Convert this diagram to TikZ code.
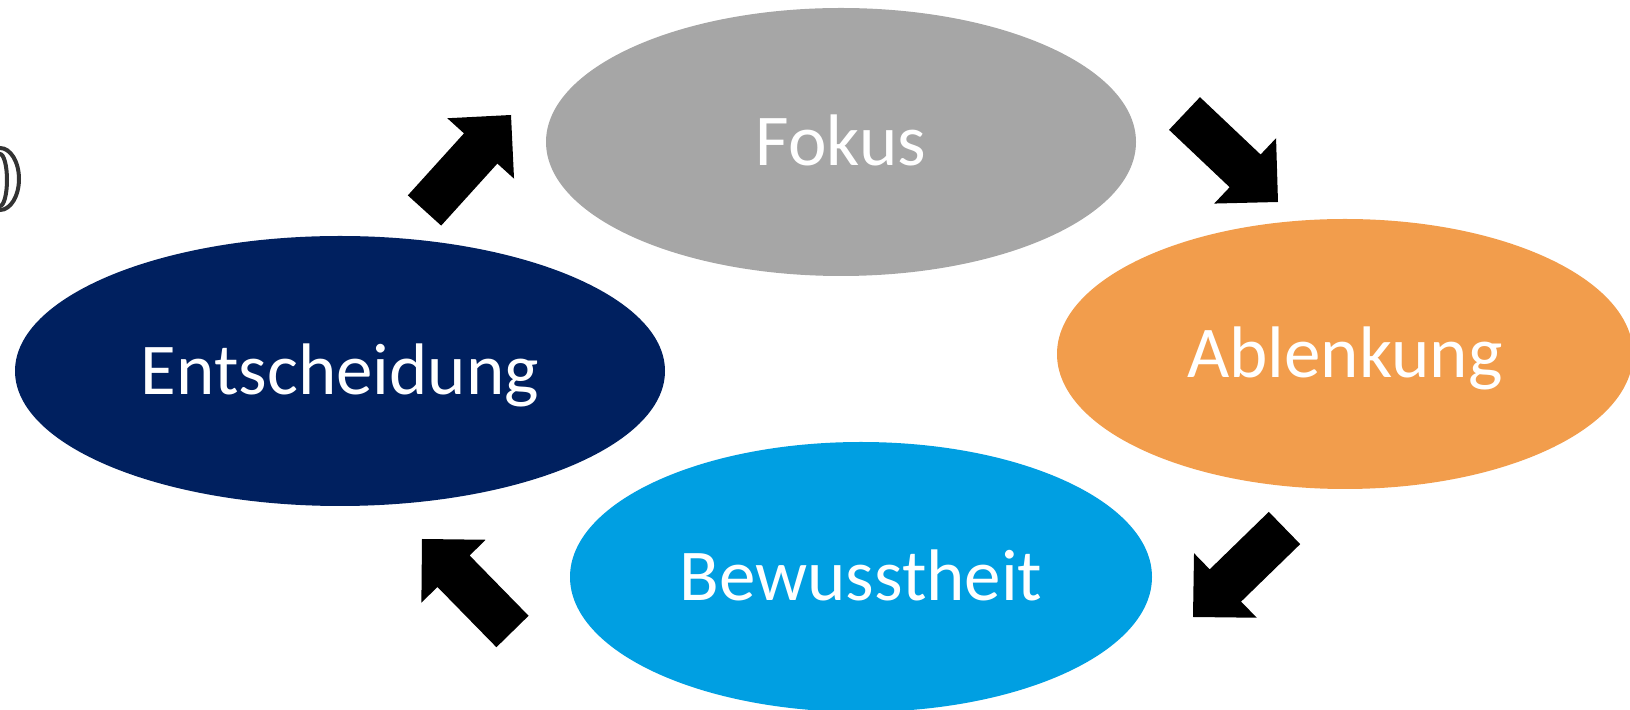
\documentclass[tikz,border=0pt]{standalone}
\usepackage{fontspec}
\setmainfont{Carlito}
\usetikzlibrary{calc,shapes.geometric}

\definecolor{fokusgray}{HTML}{A6A6A6}
\definecolor{ablenkorange}{HTML}{F29D4C}
\definecolor{entschnavy}{HTML}{00205F}
\definecolor{bewusstblue}{HTML}{009FE2}

\begin{document}
\begin{tikzpicture}[x=0.5pt,y=-0.5pt,font=\fontsize{36.5}{40}\selectfont,
  phase/.style={ellipse,inner sep=0pt,text=white,text height=23.5pt,text depth=0pt},
  % block arrow: shaft 22.5pt wide, head 45pt wide and 22.5pt long
  blockarrow/.style={fill=black,to path={
    let \p1=($(\tikztotarget)-(\tikztostart)$),
        \n1={atan2(\y1,\x1)}, \n2={veclen(\x1,\y1)-22.5pt},
        \n3={\n1+90}, \n4={\n1-90} in
    ($(\tikztostart)+(\n3:11.25pt)$)
    -- ($(\tikztostart)+(\n1:\n2)+(\n3:11.25pt)$)
    -- ($(\tikztostart)+(\n1:\n2)+(\n3:22.5pt)$)
    -- (\tikztotarget)
    -- ($(\tikztostart)+(\n1:\n2)+(\n4:22.5pt)$)
    -- ($(\tikztostart)+(\n1:\n2)+(\n4:11.25pt)$)
    -- ($(\tikztostart)+(\n4:11.25pt)$) -- cycle}}]
  \clip (0,0) rectangle (1630,710);
  % leftover glyph at the left edge
  \draw[black!80,line width=2pt] (0,179) ellipse [x radius=9.5pt,y radius=15.5pt];
  \draw[black!80,line width=2pt] (0,180) ellipse [x radius=3.5pt,y radius=13pt];

  \node[phase,fill=fokusgray,minimum width=295pt,minimum height=134pt] (fokus) at (841,142) {Fokus};
  \node[phase,fill=ablenkorange,minimum width=288pt,minimum height=135pt] (ablenk) at (1345,354) {Ablenkung};
  \node[phase,fill=bewusstblue,minimum width=291pt,minimum height=135pt] (bewusst) at (861,577) {Bewusstheit};
  \node[phase,fill=entschnavy,minimum width=325pt,minimum height=135pt] (entsch) at (340,371) {Entscheidung};

  \coordinate (entsch-out) at (424.5,210.5);
  \coordinate (fokus-in) at (511,115);
  \coordinate (fokus-out) at (1184.5,113.5);
  \coordinate (ablenk-in) at (1278,202);
  \coordinate (ablenk-out) at (1284.5,528);
  \coordinate (bewusst-in) at (1193,617);
  \coordinate (bewusst-out) at (512.5,631.5);
  \coordinate (entsch-in) at (422,539);

  \path[blockarrow] (entsch-out) to (fokus-in);
  \path[blockarrow] (fokus-out) to (ablenk-in);
  \path[blockarrow] (ablenk-out) to (bewusst-in);
  \path[blockarrow] (bewusst-out) to (entsch-in);
\end{tikzpicture}
\end{document}
